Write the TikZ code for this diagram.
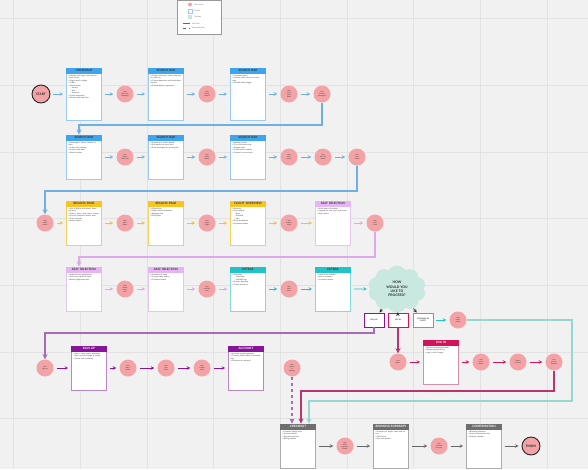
\documentclass[tikz,border=0pt]{standalone}
\usepackage{fontspec}
\setmainfont{Lato}
\usepackage{xcolor}
\usetikzlibrary{shapes.symbols}

\definecolor{bgc}{HTML}{F1F1F1}
\definecolor{gridc}{HTML}{E2E2E2}
\definecolor{actc}{HTML}{F3A3A5}
\definecolor{bluec}{HTML}{3FA4EE}
\definecolor{bluel}{HTML}{9DCBF0}
\definecolor{bluer}{HTML}{6FB0E4}
\definecolor{yelc}{HTML}{F7C325}
\definecolor{yell}{HTML}{F4CF5E}
\definecolor{lavc}{HTML}{E6B5F4}
\definecolor{lavl}{HTML}{E4C6EF}
\definecolor{lavr}{HTML}{DDA8EC}
\definecolor{tealc}{HTML}{22C3C6}
\definecolor{teall}{HTML}{86D9D9}
\definecolor{tealr}{HTML}{94D8D0}
\definecolor{purc}{HTML}{86159A}
\definecolor{purl}{HTML}{B987C4}
\definecolor{purr}{HTML}{A66DB5}
\definecolor{magc}{HTML}{D4145A}
\definecolor{magl}{HTML}{D98EAB}
\definecolor{magr}{HTML}{B8356E}
\definecolor{grayc}{HTML}{6E6E6E}
\definecolor{grayl}{HTML}{ABABAB}
\definecolor{mintc}{HTML}{C9E9E0}

\begin{document}
\begin{tikzpicture}[x=1pt, y=-1pt, node distance=41pt, >=stealth,
    screen/.style={draw=#1, fill=white, line width=0.6pt, inner sep=2pt, text width=31pt, align=left,
        text height=6.4pt, text depth=33.6pt, font=\fontsize{1.9}{2.5}\selectfont, text=black!75},
    tall/.style={text depth=41.6pt},
    head/.style={fill=#1, draw=none, anchor=north, text width=35.6pt, align=center, text height=2.4pt,
        text depth=0.8pt, inner xsep=0pt, inner ysep=1.4pt, font=\bfseries\fontsize{3}{3}\selectfont, text=black!80},
    act/.style={circle, fill=actc, minimum size=17pt, inner sep=0.3pt, align=center,
        font=\fontsize{1.6}{1.9}\selectfont, text=black!85},
    term/.style={act, draw=black!85, line width=0.9pt, minimum size=18pt, font=\bfseries\fontsize{3.2}{3.5}\selectfont},
    choice/.style={draw=#1, fill=white, line width=0.9pt, minimum width=20pt, minimum height=14pt, inner sep=0.5pt,
        align=center, font=\bfseries\fontsize{1.8}{2.2}\selectfont, text=black!80},
    keytext/.style={anchor=west, inner sep=0pt, font=\fontsize{1.8}{2}\selectfont, text=black!60},
    flow/.style={->, draw=#1, line width=0.6pt, shorten <=3pt, shorten >=3pt},
    route/.style={->, draw=#1, line width=1.3pt}]

    % Board
    \fill[bgc] (0,0) rectangle (588,469);
    \useasboundingbox (0,0) rectangle (588,469);
    \foreach \gx in {13,80,147,213,280,347,413,480,547}
        \draw[gridc, line width=0.6pt] (\gx,0) -- (\gx,469);
    \foreach \gy in {18,85,152,218,285,352,418}
        \draw[gridc, line width=0.6pt] (0,\gy) -- (588,\gy);

    % Key
    \node[draw=black!40, fill=white, line width=0.5pt, minimum width=44pt, minimum height=34pt] (key) at (199,17) {};
    \node[circle, fill=actc, minimum size=4pt, inner sep=0pt] (keyact) at (190,4.5) {};
    \node[keytext] at ([xshift=2pt]keyact.east) {User action};
    \node[draw=bluel, fill=white, minimum size=4pt, inner sep=0pt] (keyscreen) at (190,11) {};
    \node[keytext] at ([xshift=2pt]keyscreen.east) {Screen};
    \node[fill=mintc, minimum size=4pt, inner sep=0pt] (keyask) at (190,17) {};
    \node[keytext] at ([xshift=2pt]keyask.east) {Decision};
    \coordinate (keyflowa) at (183,23.5);
    \coordinate (keyflowb) at (190,23.5);
    \draw[black!60, line width=0.5pt] (keyflowa) -- (keyflowb);
    \node[keytext] at ([xshift=2pt]keyflowb) {User flow};
    \coordinate (keyalta) at (183,28);
    \coordinate (keyaltb) at (190,28);
    \draw[black!60, line width=0.5pt, dashed] (keyalta) -- (keyaltb);
    \node[keytext] at ([xshift=2pt]keyaltb) {Alternative flow};

    % Row 1
    \node[screen=bluel, tall, label={[head=bluec]north:HOMEPAGE}] (home) at (84,94) {
        • Header with logo, menu and account access\\
        • Flight search widget\\
        • Offers\\
        • Destinations\\
        \hspace*{2pt}- Europe\\
        \hspace*{2pt}- Asia\\
        \hspace*{2pt}- Americas\\
        • Travel inspiration\\
        • Footer with help links};
    \node[term, node distance=43pt, left of=home] (start) {START};
    \node[act, right of=home] (a11) {User\\opens the\\homepage};
    \node[screen=bluel, tall, right of=a11, label={[head=bluec]north:SEARCH BAR}] (s12) {
        • Choose trip type: return, one way or multi-city\\
        • Choose departure and destination airports\\
        • Autocomplete suggestions};
    \node[act, right of=s12] (a12) {User\\selects\\airports};
    \node[screen=bluel, tall, right of=a12, label={[head=bluec]north:SEARCH BAR}] (s13) {
        • Calendar opens\\
        • Lowest prices shown on each date\\
        • Flexible dates toggle};
    \node[act, right of=s13] (a13) {User\\picks\\travel\\dates};
    \node[act, node distance=33pt, right of=a13] (a14) {User\\chooses\\passengers};

    % Row 2
    \node[screen=bluel, label={[head=bluec]north:SEARCH BAR}] (s21) at (84,157) {
        • Passengers: adults, children, infants\\
        • Cabin class selector\\
        • Promo code field\\
        • Search button};
    \node[act, right of=s21] (a21) {User\\selects\\cabin class};
    \node[screen=bluel, right of=a21, label={[head=bluec]north:SEARCH BAR}] (s22) {
        • Summary of search details\\
        • Edit option for each field\\
        • Error messages for missing info};
    \node[act, right of=s22] (a22) {User\\checks\\details};
    \node[screen=bluel, right of=a22, label={[head=bluec]north:SEARCH BAR}] (s23) {
        • Loading screen\\
        • Tips while searching\\
        • Progress bar\\
        • Cancel search option\\
        • Option to save search};
    \node[act, right of=s23] (a23) {User\\clicks\\search};
    \node[act, node distance=34pt, right of=a23] (a24) {User\\waits for\\results};
    \node[act, node distance=34pt, right of=a24] (a25) {User\\sees\\results};

    % Row 3
    \node[screen=yell, label={[head=yelc]north:RESULTS PAGE}] (s31) at (84,223) {
        • List of flights with times, stops and price\\
        • Filters: price, stops, times, airlines\\
        • Sort by cheapest, fastest, best\\
        • Price calendar\\
        • Select button};
    \node[act, node distance=39pt, left of=s31] (a31) {User\\scrolls\\results};
    \node[act, right of=s31] (a32) {User\\filters\\flights};
    \node[screen=yell, right of=a32, label={[head=yelc]north:RESULTS PAGE}] (s32) {
        • Filtered list\\
        • Flight details dropdown\\
        • Baggage info\\
        • Fare types};
    \node[act, right of=s32] (a33) {User\\selects\\a flight};
    \node[screen=yell, right of=a33, label={[head=yelc]north:FLIGHT OVERVIEW}] (s33) {
        • Itinerary\\
        • Fare options\\
        \hspace*{2pt}- Basic\\
        \hspace*{2pt}- Standard\\
        \hspace*{2pt}- Flex\\
        • Price breakdown\\
        • Continue button};
    \node[act, right of=s33] (a34) {User\\chooses\\a fare};
    \node[screen=lavl, node distance=44pt, right of=a34, label={[head=lavc]north:SEAT SELECTION}] (s34) {
        • Seat map of the plane\\
        • Legend for seat types and prices\\
        • Skip option};
    \node[act, node distance=42pt, right of=s34] (a35) {User\\picks\\a seat};

    % Row 4
    \node[screen=lavl, label={[head=lavc]north:SEAT SELECTION}] (s41) at (84,289) {
        • Selected seat highlighted\\
        • Seat price added to total\\
        • Return flight seat map};
    \node[act, right of=s41] (a41) {User\\selects\\return\\seat};
    \node[screen=lavl, right of=a41, label={[head=lavc]north:SEAT SELECTION}] (s42) {
        • Summary of seats\\
        • Change seats option\\
        • Continue button};
    \node[act, right of=s42] (a42) {User\\confirms\\seats};
    \node[screen=teall, right of=a42, label={[head=tealc]north:EXTRAS}] (s43) {
        • Add bags\\
        \hspace*{2pt}- Cabin bag\\
        \hspace*{2pt}- Checked bag\\
        • Priority boarding\\
        • Travel insurance};
    \node[act, right of=s43] (a43) {User\\adds\\extras};
    \node[screen=teall, node distance=44pt, right of=a43, label={[head=tealc]north:EXTRAS}] (s44) {
        • Total price updated\\
        • Extras summary\\
        • Continue button};
    \node[cloud, cloud puffs=10, cloud puff arc=120, aspect=1.25, fill=mintc, minimum width=58pt, minimum height=47pt,
        inner sep=0pt, align=center, font=\bfseries\fontsize{3.4}{4.4}\selectfont, text=black!85,
        node distance=64pt, right of=s44] (ask) {HOW\\WOULD YOU\\LIKE TO\\PROCEED?};

    % Choices
    \node[choice=purc] (signup) at (374,320) {SIGN UP};
    \node[choice=magc, node distance=24pt, right of=signup] (login) {LOG IN};
    \node[choice=tealc, node distance=25pt, right of=login] (guest) {CONTINUE AS\\GUEST};
    \node[act, node distance=35pt, right of=guest] (aguest) {User\\enters\\details};

    % Row 5
    \node[act] (a51) at (45,368) {User\\signs up};
    \node[screen=purl, node distance=44pt, right of=a51, label={[head=purc, text=white]north:SIGN UP}] (s51) {
        • Form: name, email, password\\
        • Sign up with Google or Apple\\
        • Terms and conditions};
    \node[act, node distance=39pt, right of=s51] (a52) {User\\fills in\\details};
    \node[act, node distance=38pt, right of=a52] (a53) {User\\gets\\email};
    \node[act, node distance=36pt, right of=a53] (a54) {User\\verifies\\email};
    \node[screen=purl, node distance=44pt, right of=a54, label={[head=purc, text=white]north:ACCOUNT}] (s52) {
        • Account created message\\
        • Traveller details filled in automatically\\
        • Continue to checkout};
    \node[act, node distance=46pt, right of=s52] (a55) {User\\returns\\to\\booking};

    % Log in
    \node[act, node distance=42pt, below of=login] (a61) {User\\logs in};
    \node[screen=magl, node distance=43pt, right of=a61, label={[head=magc, text=white]north:LOG IN}] (s61) {
        • Email and password fields\\
        • Forgot password link\\
        • Log in with Google};
    \node[act, node distance=40pt, right of=s61] (a62) {User\\enters\\details};
    \node[act, node distance=37pt, right of=a62] (a63) {Details\\are saved};
    \node[act, node distance=36pt, right of=a63] (a64) {User\\goes to\\checkout};

    % Row 6
    \node[screen=grayl, label={[head=grayc, text=white]north:CHECKOUT}] (s71) at (298,446) {
        • Traveller details form\\
        • Contact details\\
        • Payment method\\
        • Billing address};
    \node[act, node distance=47pt, right of=s71] (a71) {User\\enters\\payment\\details};
    \node[screen=grayl, node distance=46pt, right of=a71, label={[head=grayc, text=white]north:BOOKING SUMMARY}] (s72) {
        • Summary of flights, seats and extras\\
        • Total price\\
        • Pay now button};
    \node[act, node distance=48pt, right of=s72] (a72) {User\\confirms\\and pays};
    \node[screen=grayl, node distance=45pt, right of=a72, label={[head=grayc, text=white]north:CONFIRMATION}] (s73) {
        • Booking reference\\
        • Email confirmation sent\\
        • Add to calendar};
    \node[term, node distance=47pt, right of=s73] (finish) {FINISH};

    % Steps
    \foreach \p/\q in {start/home, home/a11, a11/s12, s12/a12, a12/s13, s13/a13, a13/a14,
                       s21/a21, a21/s22, s22/a22, a22/s23, s23/a23, a23/a24, a24/a25}
        \draw[flow=bluer] (\p) -- (\q);
    \foreach \p/\q in {a31/s31, s31/a32, a32/s32, s32/a33, a33/s33, s33/a34, a34/s34}
        \draw[flow=yelc] (\p) -- (\q);
    \foreach \p/\q in {s34/a35, s41/a41, a41/s42, s42/a42, a42/s43}
        \draw[flow=lavr] (\p) -- (\q);
    \foreach \p/\q in {s43/a43, a43/s44, s44/ask, guest/aguest}
        \draw[flow=tealc] (\p) -- (\q);
    \foreach \p/\q in {a51/s51, s51/a52, a52/a53, a53/a54, a54/s52}
        \draw[flow=purc] (\p) -- (\q);
    \foreach \p/\q in {a61/s61, s61/a62, a62/a63, a63/a64}
        \draw[flow=magc] (\p) -- (\q);
    \foreach \p/\q in {s71/a71, a71/s72, s72/a72, a72/s73, s73/finish}
        \draw[flow=black!60] (\p) -- (\q);
    \foreach \q in {signup, login, guest}
        \draw[->, black!85, line width=0.6pt] (ask) -- (\q);

    % Row changes
    \draw[route=bluer] (a14) -- ++(0,31) -| ([xshift=-5pt]s21.north);
    \draw[route=bluer] (a25) -- ++(0,34) -| (a31);
    \draw[route=lavr] (a35) -- ++(0,34) -| ([xshift=-5pt]s41.north);
    \draw[route=purr] (signup) -- ++(0,13) -| (a51);
    \draw[route=magr] (login) -- (a61);
    \draw[route=tealr] (aguest) -- ++(114,0) -- ++(0,81) -| ([xshift=11pt]s71.north);
    \draw[route=purr, dashed] (a55) -- ([xshift=-6pt]s71.north);
    \draw[route=magr] (a64) -- ++(0,29) -| ([xshift=3pt]s71.north);
\end{tikzpicture}
\end{document}
